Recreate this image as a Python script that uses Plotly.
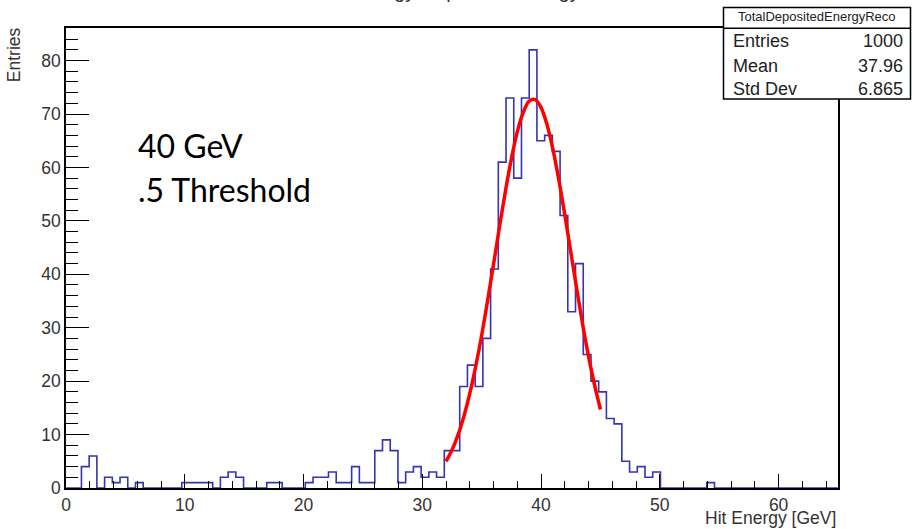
import numpy as np
import plotly.graph_objects as go

# ---------------- data ----------------
n_bins = 100
x_min, x_max = 0.0, 65.0
counts = [
    0, 0, 4, 6, 0, 2, 1, 2, 0, 1,
    0, 0, 0, 0, 0, 1, 1, 1, 1, 0,
    2, 3, 2, 0, 0, 0, 1, 1, 0, 0,
    0, 1, 2, 2, 3, 1, 1, 4, 1, 1,
    7, 9, 7, 1, 3, 4, 2, 3, 2, 7,
    7, 19, 23, 19, 28, 41, 61, 73, 58, 73,
    82, 65, 66, 63, 51, 33, 42, 25, 20, 18,
    13, 12, 5, 3, 4, 2, 3, 0, 0, 0,
    0, 0, 0, 1, 0, 0, 0, 0, 0, 0,
    0, 0, 0, 0, 0, 0, 0, 0, 0, 0,
]
fit_x = [32.0, 32.5, 33.0, 33.5, 34.0, 34.5, 35.0, 35.5, 36.0, 36.5, 37.0, 37.5, 38.0, 38.5,
         39.0, 39.5, 40.0, 40.5, 41.0, 41.5, 42.0, 42.5, 43.0, 43.5, 44.0, 44.5, 45.0]
fit_y = [5.0, 7.1, 9.9, 13.4, 17.7, 22.8, 28.6, 35.1, 41.9, 48.9, 55.6, 61.6, 66.7, 70.3,
         72.4, 72.7, 71.2, 68.0, 63.4, 57.6, 51.1, 44.2, 37.3, 30.6, 24.6, 19.3, 14.7]
x_tick_vals = [0, 10, 20, 30, 40, 50, 60]
y_tick_vals = [0, 10, 20, 30, 40, 50, 60, 70, 80]
y_max = 86.1

title_text = "Total Energy Deposited Energy Reco"
x_title = "Hit Energy [GeV]"
y_title = "Entries"
stats_title = "TotalDepositedEnergyReco"
stats_labels = ["Entries", "Mean", "Std Dev"]
stats_values = ["1000", "37.96", "6.865"]
note_lines = ["40 GeV", ".5 Threshold"]

# ---------------- geometry helpers ----------------
W, H = 912, 529
L, R, T, B = 66, 74, 28, 41
plot_w = W - L - R
plot_h = H - T - B


def px(x):
    return (x - L) / plot_w


def py(y):
    return (H - B - y) / plot_h


edges = np.linspace(x_min, x_max, n_bins + 1)
step_y = list(counts) + [counts[-1]]

AX_FONT = "Liberation Sans, Arial, sans-serif"

fig = go.Figure()
fig.add_trace(go.Scatter(
    x=edges, y=step_y, mode="lines", line_shape="hv",
    line=dict(color="#3434b4", width=1.6), hoverinfo="skip", showlegend=False))
fig.add_trace(go.Scatter(
    x=fit_x, y=fit_y, mode="lines", line_shape="spline",
    line=dict(color="#ff0000", width=3.5), hoverinfo="skip", showlegend=False))

fig.update_layout(
    width=W, height=H, autosize=False,
    margin=dict(l=L, r=R, t=T, b=B, pad=0),
    paper_bgcolor="white", plot_bgcolor="white",
    showlegend=False,
    xaxis=dict(range=[x_min, x_max], showgrid=False, zeroline=False,
               showline=True, linecolor="black", linewidth=1.5, mirror=True,
               ticks="inside", ticklen=14, tickwidth=1, tickcolor="black",
               tickvals=x_tick_vals,
               minor=dict(ticks="inside", ticklen=7, tickwidth=1, tickcolor="black",
                          dtick=2, tick0=0, showgrid=False),
               tickfont=dict(family=AX_FONT, size=17.5, color="#333333")),
    yaxis=dict(range=[0, y_max], showgrid=False, zeroline=False,
               showline=True, linecolor="black", linewidth=1.5, mirror=True,
               ticks="inside", ticklen=23, tickwidth=1, tickcolor="black",
               tickvals=y_tick_vals,
               minor=dict(ticks="inside", ticklen=12, tickwidth=1, tickcolor="black",
                          dtick=2, tick0=0, showgrid=False),
               tickfont=dict(family=AX_FONT, size=17.5, color="#333333")),
)

ann = []
# clipped title at the very top
ann.append(dict(text=title_text, x=px(468), xanchor="center", y=py(4.0), yanchor="bottom",
                font=dict(family=AX_FONT, size=20, color="#333333")))
# axis titles
ann.append(dict(text=x_title, x=px(838), xanchor="right", y=py(529.5), yanchor="bottom",
                font=dict(family=AX_FONT, size=17.5, color="#333333")))
ann.append(dict(text=y_title, textangle=-90, x=px(14), xanchor="center", y=py(25.7),
                yanchor="top", font=dict(family=AX_FONT, size=17.5, color="#333333")))
# note text
note_size = 32
note_baselines = [159.5, 203.5]
for line, base in zip(note_lines, note_baselines):
    ann.append(dict(text=line, x=px(136.0), xanchor="left", y=py(base + 0.213 * note_size + 1),
                    yanchor="bottom",
                    font=dict(family="Lato, sans-serif", size=note_size, color="black")))
# stats box
ann.append(dict(text=stats_title, x=px(817), xanchor="center", y=py(22.7 + 2.8 + 1),
                yanchor="bottom", font=dict(family=AX_FONT, size=13, color="#222222")))
row_baselines = [48.3, 73.3, 96.3]
for lab, val, base in zip(stats_labels, stats_values, row_baselines):
    ann.append(dict(text=lab, x=px(730.5), xanchor="left", y=py(base + 3.8 + 1),
                    yanchor="bottom", font=dict(family=AX_FONT, size=18, color="#222222")))
    ann.append(dict(text=val, x=px(904.5), xanchor="right", y=py(base + 3.8 + 1),
                    yanchor="bottom", font=dict(family=AX_FONT, size=18, color="#222222")))
for a in ann:
    a.update(xref="paper", yref="paper", showarrow=False)
fig.update_layout(annotations=ann)

fig.update_layout(shapes=[
    dict(type="rect", xref="paper", yref="paper", x0=px(723.5), x1=px(910.5),
         y0=py(99), y1=py(7.5), line=dict(color="black", width=1.5),
         fillcolor="white", layer="above"),
    dict(type="line", xref="paper", yref="paper", x0=px(723.5), x1=px(910.5),
         y0=py(28.3), y1=py(28.3), line=dict(color="black", width=1.5), layer="above"),
])

fig.write_html("out.html",
               config={"displayModeBar": False},
               post_script="document.body.style.margin='0px';document.body.style.padding='0px';")
